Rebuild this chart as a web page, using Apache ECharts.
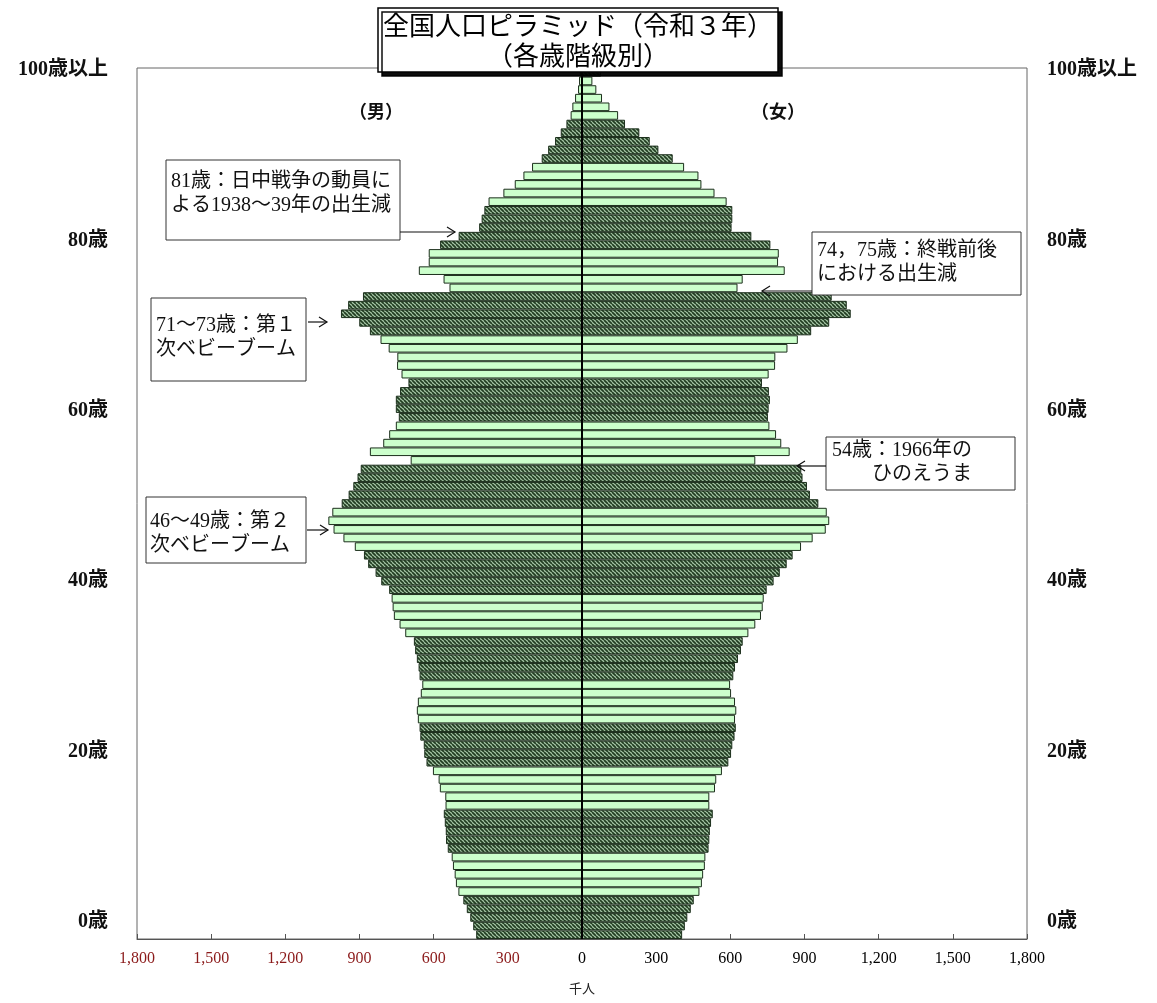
<!DOCTYPE html>
<html>
<head>
<meta charset="utf-8">
<script src="https://cdn.jsdelivr.net/npm/echarts@6/dist/echarts.min.js"></script>
<style>
html,body{margin:0;padding:0;background:#fff;}
#chart{width:1157px;height:1003px;}
</style>
</head>
<body>
<div id="chart"></div>
<script>
// ---- data (thousands of persons, by single year of age, 0 .. 100+) ----
const ages = Array.from({length: 101}, (_, i) => String(i));

const male = [
  428, 440, 452, 466, 480,   500, 510, 515, 522, 527,
  543, 550, 551, 555, 559,   552, 553, 575, 580, 603,
  629, 638, 640, 654, 657,   664, 668, 664, 652, 646,
  657, 661, 668, 675, 680,   715, 738, 761, 766, 770,
  780, 812, 835, 865, 882,   919, 965, 1005, 1026, 1010,
  972, 944, 925, 908, 895,   693, 858, 804, 780, 753,
  741, 753, 753, 736, 702,   730, 748, 747, 782, 815,
  858, 901, 975, 946, 886,   536, 560, 660, 620, 620,
  574, 499, 416, 406, 395,   378, 318, 272, 237, 202,
  163, 137, 109, 86, 63,     46, 39, 28, 16, 12,
  9
];

const female = [
  405, 416, 426, 440, 452,   475, 485, 490, 497, 499,
  512, 515, 517, 522, 529,   515, 515, 538, 543, 566,
  592, 603, 608, 617, 622,   619, 624, 619, 603, 599,
  612, 619, 631, 643, 650,   673, 701, 724, 731, 735,
  747, 775, 800, 828, 852,   886, 933, 986, 1000, 990,
  956, 922, 910, 892, 887,   701, 840, 806, 785, 758,
  752, 755, 760, 756, 728,   755, 781, 782, 831, 873,
  927, 1000, 1087, 1071, 1010, 629, 650, 820, 793, 796,
  762, 685, 605, 608, 608,   585, 536, 483, 471, 413,
  367, 309, 274, 232, 174,   146, 111, 81, 58, 42,
  77
];

const ageTickValues = [0, 20, 40, 60, 80, 100];
const ageTickLabels = ['0歳', '20歳', '40歳', '60歳', '80歳', '100歳以上'];
const xMin = -1800, xMax = 1800, xStep = 300;

const titleText = '全国人口ピラミッド（令和３年）\n（各歳階級別）';
const notes = [
  '81歳：日中戦争の動員に\nよる1938～39年の出生減',
  '74，75歳：終戦前後\nにおける出生減',
  '71～73歳：第１\n次ベビーブーム',
  '54歳：1966年の\n　　ひのえうま',
  '46～49歳：第２\n次ベビーブーム'
];

// ---- styles ----
const SERIF = "'Liberation Serif','Noto Sans CJK JP',serif";
const JP = "'Noto Sans CJK JP',sans-serif";

function makeHatch() {
  const c = document.createElement('canvas');
  c.width = 4; c.height = 4;
  const g = c.getContext('2d');
  g.fillStyle = '#a6c6a6';
  g.fillRect(0, 0, 4, 4);
  g.strokeStyle = '#213c21';
  g.lineWidth = 1.7;
  for (const k of [-4, 0, 4]) {
    g.beginPath(); g.moveTo(k, 0); g.lineTo(k + 4, 4); g.stroke();
  }
  return c;
}
const hatch = {image: makeHatch(), repeat: 'repeat'};
const LIGHT = '#ccffcc';
const BORDER = '#1c2f1c';

function styleFor(i) {
  const hatched = Math.floor(i / 5) % 2 === 0;
  return {color: hatched ? hatch : LIGHT, borderColor: BORDER, borderWidth: 1};
}

const maleItems = male.map((v, i) => ({value: -v, itemStyle: styleFor(i)}));
const femaleItems = female.map((v, i) => ({value: v, itemStyle: styleFor(i)}));

function ageLabel(v) {
  const k = ageTickValues.indexOf(Number(v));
  return k >= 0 ? ageTickLabels[k] : '';
}

// ---- annotation graphics ----
function box(x, y, w, h, text, tx, ty) {
  return [
    {type: 'rect', shape: {x: x, y: y, width: w, height: h},
     style: {fill: '#fff', stroke: '#333', lineWidth: 1}, z: 50},
    {type: 'text', x: tx, y: ty, z: 51,
     style: {text: text, font: '20px ' + SERIF, fill: '#111', lineHeight: 24,
             textVerticalAlign: 'top'}}
  ];
}
function arrow(x1, y, x2) {
  const d = x2 > x1 ? -1 : 1;
  return [
    {type: 'line', shape: {x1: x1, y1: y, x2: x2, y2: y}, style: {stroke: '#111', lineWidth: 1.2}, z: 50},
    {type: 'polyline', shape: {points: [[x2 + d * 8, y - 5], [x2, y], [x2 + d * 8, y + 5]]},
     style: {stroke: '#111', lineWidth: 1.2, fill: null}, z: 50}
  ];
}

const graphics = [].concat(
  [
    // title frame with drop shadow (the title text itself is the title component)
    {type: 'rect', shape: {x: 378, y: 8, width: 400, height: 64}, z: 55,
     style: {fill: '#fff', stroke: '#000', lineWidth: 1.5,
             shadowColor: 'rgba(0,0,0,0.95)', shadowBlur: 0, shadowOffsetX: 4, shadowOffsetY: 4}}
  ],
  box(166, 160, 234, 80, notes[0], 171, 170),
  arrow(400, 232, 455),
  box(812, 232, 209, 63, notes[1], 817, 239),
  arrow(812, 291, 762),
  box(151, 298, 155, 83, notes[2], 156, 314),
  arrow(308, 322, 327),
  box(826, 437, 189, 53, notes[3], 832, 439),
  arrow(826, 466, 797),
  box(146, 497, 160, 66, notes[4], 150, 510),
  arrow(307, 530, 328),
  [
    {type: 'text', x: 376, y: 113, z: 51,
     style: {text: '（男）', font: 'bold 18px ' + SERIF, fill: '#111', textAlign: 'center', textVerticalAlign: 'middle'}},
    {type: 'text', x: 778, y: 113, z: 51,
     style: {text: '（女）', font: 'bold 18px ' + SERIF, fill: '#111', textAlign: 'center', textVerticalAlign: 'middle'}}
  ]
);

const chart = echarts.init(document.getElementById('chart'), null, {renderer: 'canvas'});
chart.setOption({
  animation: false,
  backgroundColor: '#fff',
  title: {
    text: titleText,
    left: 578,
    top: 10,
    textAlign: 'center',
    padding: 0,
    z: 60,
    textStyle: {fontFamily: JP, fontSize: 26, fontWeight: 'normal', lineHeight: 30, color: '#000'}
  },
  grid: [
    {left: 137, right: 130, top: 68, bottom: 64, show: true, borderColor: '#666', borderWidth: 1, backgroundColor: 'transparent'},
    {left: 137, right: 130, top: 70, bottom: 81, show: false}
  ],
  xAxis: [
    {
      gridIndex: 0, type: 'value', min: xMin, max: xMax, interval: xStep,
      name: '千人', nameLocation: 'middle', nameGap: 44,
      nameTextStyle: {fontFamily: SERIF, fontSize: 13, color: '#222'},
      axisLine: {show: true, lineStyle: {color: '#555', width: 1}},
      axisTick: {show: true, inside: true, length: 5, lineStyle: {color: '#555'}},
      splitLine: {show: false},
      axisLabel: {
        margin: 12,
        fontFamily: SERIF, fontSize: 16,
        formatter: v => Math.abs(v).toLocaleString('en-US'),
        color: v => (Number(v) < 0 ? '#8b1a1a' : '#000')
      }
    },
    {gridIndex: 1, type: 'value', min: 0, max: 1, show: false}
  ],
  yAxis: [
    {
      gridIndex: 0, type: 'category', data: ages, boundaryGap: true,
      axisLine: {show: true, onZero: true, lineStyle: {color: '#000', width: 2}},
      axisTick: {show: false}, axisLabel: {show: false}, splitLine: {show: false}
    },
    {
      gridIndex: 1, type: 'value', min: 0, max: 100, interval: 20, position: 'left',
      axisLine: {show: false}, axisTick: {show: false}, splitLine: {show: false},
      axisLabel: {margin: 29, formatter: ageLabel, fontFamily: SERIF, fontSize: 20, fontWeight: 'bold', color: '#111'}
    },
    {
      gridIndex: 1, type: 'value', min: 0, max: 100, interval: 20, position: 'right',
      axisLine: {show: false}, axisTick: {show: false}, splitLine: {show: false},
      axisLabel: {margin: 20, formatter: ageLabel, fontFamily: SERIF, fontSize: 20, fontWeight: 'bold', color: '#111'}
    }
  ],
  series: [
    {
      name: '男', type: 'bar', xAxisIndex: 0, yAxisIndex: 0,
      data: maleItems, barCategoryGap: '0%', barGap: '-100%', silent: true
    },
    {
      name: '女', type: 'bar', xAxisIndex: 0, yAxisIndex: 0,
      data: femaleItems, barCategoryGap: '0%', barGap: '-100%', silent: true,
      markLine: {
        silent: true, symbol: ['none', 'none'], label: {show: false},
        lineStyle: {color: '#000', width: 2, type: 'solid'},
        data: [{xAxis: 0}]
      }
    }
  ],
  graphic: graphics
});
</script>
</body>
</html>
